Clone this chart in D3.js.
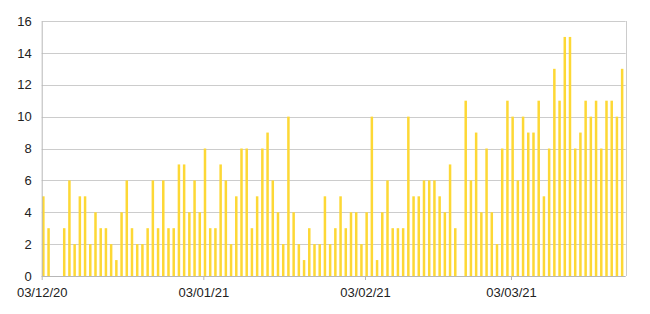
<!DOCTYPE html>
<html>
<head>
<meta charset="utf-8">
<script src="https://cdn.jsdelivr.net/npm/d3@7"></script>
<style>
  html, body { margin: 0; padding: 0; background: #fff; }
  svg { display: block; font-family: "Liberation Sans", Arial, sans-serif; }
</style>
</head>
<body>
<svg id="chart" width="650" height="314"></svg>
<script>
// ---- data ----
const startDate = "2020-12-03";
const endDate = "2021-03-25"; // exclusive
const values = [
  5, 3, 0, 0, 3, 6, 2, 5, 5, 2, 4, 3, 3, 2, 1, 4, 6, 3, 2, 2,
  3, 6, 3, 6, 3, 3, 7, 7, 4, 6, 4, 8, 3, 3, 7, 6, 2, 5, 8, 8,
  3, 5, 8, 9, 6, 4, 2, 10, 4, 2, 1, 3, 2, 2, 5, 2, 3, 5, 3, 4,
  4, 2, 4, 10, 1, 4, 6, 3, 3, 3, 10, 5, 5, 6, 6, 6, 5, 4, 7, 3,
  0, 11, 6, 9, 4, 8, 4, 2, 8, 11, 10, 6, 10, 9, 9, 11, 5, 8, 13, 11,
  15, 15, 8, 9, 11, 10, 11, 8, 11, 11, 10, 13
];
const xTickDates = ["2020-12-03", "2021-01-03", "2021-02-03", "2021-03-03"];
const yTicks = [0, 2, 4, 6, 8, 10, 12, 14, 16];

(function () {
  // ---- layout ----
  const mLeft = 41.7, mRight = 625.7, mTop = 21, mBottom = 276;
  const parse = d3.utcParse("%Y-%m-%d");
  const dates = d3.utcDay.range(parse(startDate), parse(endDate));
  const data = dates.map((d, i) => ({ date: d, value: values[i] }));

  const svg = d3.select("#chart");
  const x = d3.scaleUtc().domain([parse(startDate), parse(endDate)]).range([mLeft, mRight]);
  const y = d3.scaleLinear().domain([0, 16]).range([mBottom, mTop]);

  // gridlines
  svg.append("g")
    .selectAll("line")
    .data(yTicks.filter(t => t > 0))
    .join("line")
    .attr("x1", mLeft).attr("x2", mRight)
    .attr("y1", d => Math.round(y(d)) + 0.5).attr("y2", d => Math.round(y(d)) + 0.5)
    .attr("stroke", "#cccccc").attr("stroke-width", 1);

  // right border
  svg.append("line")
    .attr("x1", Math.round(mRight) + 0.5).attr("x2", Math.round(mRight) + 0.5)
    .attr("y1", mTop).attr("y2", mBottom)
    .attr("stroke", "#cccccc");

  // bars
  const dayW = x(dates[1]) - x(dates[0]);
  svg.append("g")
    .selectAll("rect")
    .data(data)
    .join("rect")
    .attr("x", d => x(d.date) + 0.4)
    .attr("width", dayW * 0.48)
    .attr("y", d => y(d.value))
    .attr("height", d => y(0) - y(d.value))
    .attr("fill", "#fdd835");

  // y axis
  const yAxis = svg.append("g")
    .attr("transform", `translate(${mLeft},0)`)
    .call(d3.axisLeft(y).tickValues(yTicks).tickSize(0).tickPadding(10).tickFormat(d3.format("d")));
  yAxis.select(".domain").attr("stroke", "#b7b7b7");
  yAxis.selectAll("text").attr("font-size", 13).attr("fill", "#222")
    .attr("font-family", "Liberation Sans, Arial, sans-serif");

  // x axis
  const xAxis = svg.append("g")
    .attr("transform", `translate(0,${mBottom})`)
    .call(d3.axisBottom(x).tickValues(xTickDates.map(parse)).tickSize(4).tickPadding(8)
      .tickFormat(d3.utcFormat("%d/%m/%y")));
  xAxis.select(".domain").attr("stroke", "#b7b7b7").attr("d", `M${mLeft},0.5H${mRight}`);
  xAxis.selectAll(".tick line").attr("stroke", "#b7b7b7");
  xAxis.selectAll("text").attr("font-size", 13).attr("fill", "#222")
    .attr("font-family", "Liberation Sans, Arial, sans-serif");
})();
</script>
</body>
</html>
